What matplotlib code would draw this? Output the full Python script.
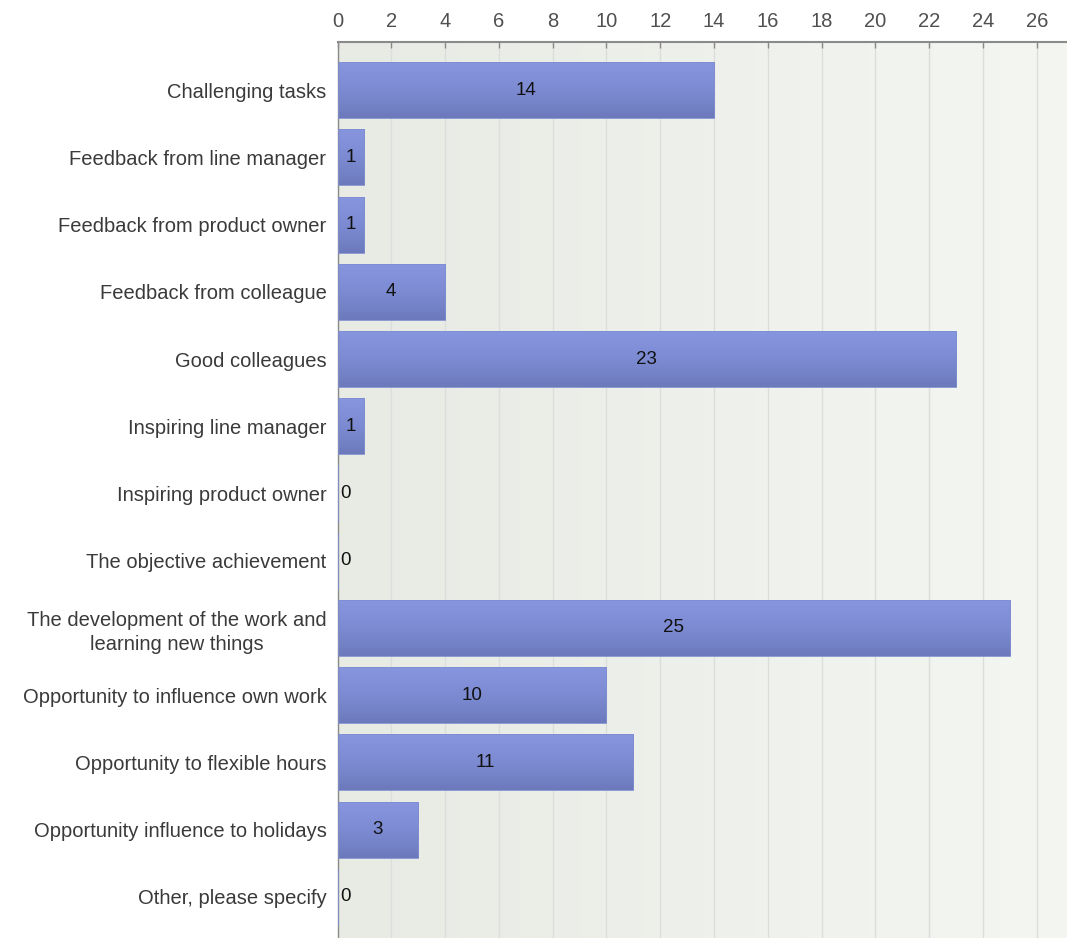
import numpy as np
import matplotlib
matplotlib.use("Agg")
import matplotlib.pyplot as plt
from matplotlib.colors import LinearSegmentedColormap

categories = [
    "Challenging tasks",
    "Feedback from line manager",
    "Feedback from product owner",
    "Feedback from colleague",
    "Good colleagues",
    "Inspiring line manager",
    "Inspiring product owner",
    "The objective achievement",
    "The development of the work and\nlearning new things",
    "Opportunity to influence own work",
    "Opportunity to flexible hours",
    "Opportunity influence to holidays",
    "Other, please specify",
]
counts = [14, 1, 1, 4, 23, 1, 0, 0, 25, 10, 11, 3, 0]
x_ticks = list(range(0, 27, 2))

plt.rcParams["font.family"] = ["Liberation Sans", "DejaVu Sans"]

W, H, DPI = 1067, 938, 100
fig = plt.figure(figsize=(W / DPI, H / DPI), dpi=DPI)
left, right, top, bottom = 337.5, 1067, 42, 938
ax = fig.add_axes([left / W, 1 - bottom / H, (right - left) / W, (bottom - top) / H])

n = len(categories)
x_max = 27.12
ax.set_xlim(0, x_max)
ax.set_ylim(n - 1 + 0.61, -0.714)

# background: soft horizontal gradient
bg = LinearSegmentedColormap.from_list("bg", ["#e8ebe4", "#f4f6f2"])
ax.imshow(np.linspace(0, 1, 256)[None, :], aspect="auto", cmap=bg,
          extent=[0, x_max, n - 1 + 0.61, -0.714], zorder=0)

for t in x_ticks:
    ax.axvline(t, color="#dcdedb", lw=1.0, zorder=1)

bar_h = 0.833
bar_cmap = LinearSegmentedColormap.from_list("bar", ["#8896e0", "#7d8bd3", "#6c7abc"])
grad = np.linspace(0, 1, 128)[:, None]
bars = ax.barh(range(n), counts, height=bar_h, color="none",
               edgecolor="#7e8cd0", lw=0.6, zorder=3)
for i, (b, v) in enumerate(zip(bars, counts)):
    if v > 0:
        im = ax.imshow(grad, aspect="auto", cmap=bar_cmap,
                       extent=[0, v, i + bar_h / 2, i - bar_h / 2], zorder=2)
        im.set_clip_path(b)
        ax.text(v / 2, i, str(v), ha="center", va="center",
                fontsize=13.5, color="#111111", zorder=4)
    else:
        ax.text(0.1, i, str(v), ha="left", va="center",
                fontsize=13.5, color="#111111", zorder=4)

ax.set_yticks(range(n))
ax.set_yticklabels(categories, fontsize=14.5, color="#3a3a3a",
                   multialignment="center", linespacing=1.35)
ax.tick_params(axis="y", length=0, pad=8)
ax.set_xticks(x_ticks)
ax.xaxis.tick_top()
ax.tick_params(axis="x", direction="in", length=4, width=1, color="#8a8a8a",
               labelsize=14.5, labelcolor="#505050", pad=8)

for s in ["right", "bottom"]:
    ax.spines[s].set_visible(False)
ax.spines["top"].set_color("#8a8a8a")
ax.spines["top"].set_linewidth(1.5)
ax.spines["left"].set_color("#8a8a8a")
ax.spines["left"].set_linewidth(1.0)

fig.savefig("out.png", dpi=DPI)
